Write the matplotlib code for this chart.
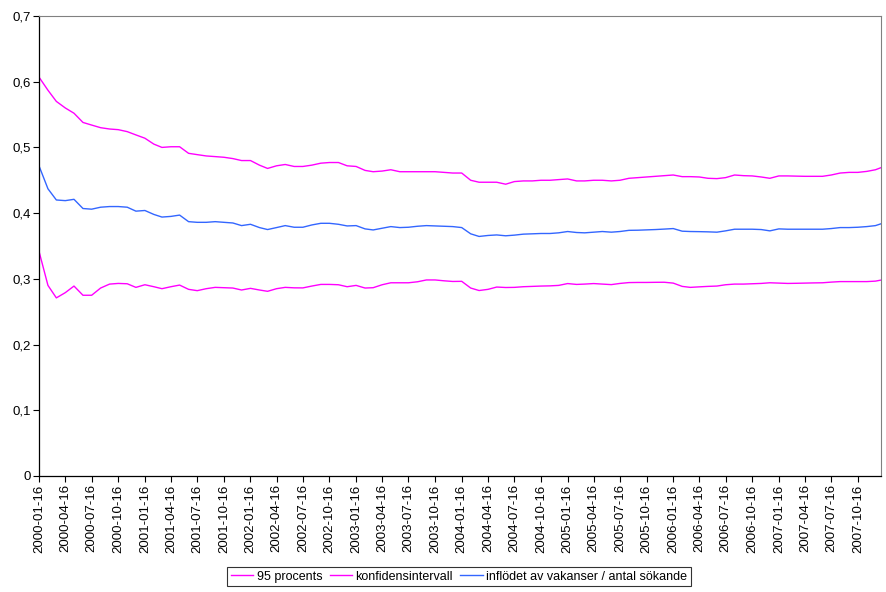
import pandas as pd
import matplotlib
matplotlib.use('Agg')
import matplotlib.pyplot as plt
import matplotlib.dates as mdates

plt.rcParams['font.family'] = ['Liberation Sans', 'DejaVu Sans']

# --- data (one value per month + end of axis) ---
start = pd.Timestamp('2000-01-16')
dates = [start + pd.DateOffset(months=i) for i in range(96)] + [pd.Timestamp('2008-01-03')]

upper = [0.607, 0.587, 0.570, 0.560, 0.552, 0.538, 0.534, 0.530, 0.528, 0.527,
         0.524, 0.519, 0.514, 0.505, 0.500, 0.501, 0.501, 0.491, 0.489, 0.487,
         0.486, 0.485, 0.483, 0.480, 0.480, 0.473, 0.468, 0.472, 0.474, 0.471,
         0.471, 0.473, 0.476, 0.477, 0.477, 0.472, 0.471, 0.465, 0.463, 0.464,
         0.466, 0.463, 0.463, 0.463, 0.463, 0.463, 0.462, 0.461, 0.461, 0.450,
         0.447, 0.447, 0.447, 0.444, 0.448, 0.449, 0.449, 0.450, 0.450, 0.451,
         0.452, 0.449, 0.449, 0.450, 0.450, 0.449, 0.450, 0.453, 0.454, 0.455,
         0.456, 0.457, 0.458, 0.4555, 0.4555, 0.455, 0.453, 0.4525, 0.454, 0.458,
         0.457, 0.4566, 0.455, 0.453, 0.4566, 0.4566, 0.4563, 0.456, 0.456, 0.456,
         0.458, 0.461, 0.462, 0.462, 0.4635, 0.466, 0.469]

middle = [0.472, 0.437, 0.420, 0.419, 0.421, 0.407, 0.406, 0.409, 0.410, 0.410,
          0.409, 0.403, 0.404, 0.398, 0.394, 0.395, 0.397, 0.387, 0.386, 0.386,
          0.387, 0.386, 0.385, 0.381, 0.383, 0.378, 0.375, 0.378, 0.381, 0.3785,
          0.3785, 0.382, 0.3845, 0.3845, 0.383, 0.3805, 0.381, 0.376, 0.3744, 0.377,
          0.3795, 0.378, 0.3785, 0.380, 0.381, 0.3805, 0.380, 0.3795, 0.378, 0.3685,
          0.3645, 0.366, 0.3668, 0.3655, 0.3665, 0.368, 0.3685, 0.369, 0.369, 0.370,
          0.372, 0.3705, 0.370, 0.371, 0.372, 0.371, 0.372, 0.3738, 0.374, 0.3745,
          0.375, 0.3757, 0.3765, 0.3725, 0.372, 0.3718, 0.3715, 0.371, 0.373, 0.3755,
          0.3755, 0.3755, 0.375, 0.373, 0.376, 0.3755, 0.3755, 0.3755, 0.3755, 0.3755,
          0.3765, 0.378, 0.378, 0.3785, 0.3795, 0.381, 0.3836]

lower = [0.342, 0.290, 0.271, 0.279, 0.289, 0.275, 0.275, 0.286, 0.292, 0.293,
         0.2925, 0.287, 0.291, 0.288, 0.285, 0.288, 0.2905, 0.284, 0.282, 0.285,
         0.287, 0.2865, 0.286, 0.283, 0.2855, 0.283, 0.281, 0.285, 0.287, 0.2863,
         0.2862, 0.289, 0.2915, 0.2915, 0.291, 0.288, 0.290, 0.286, 0.2865, 0.291,
         0.294, 0.294, 0.294, 0.2955, 0.2983, 0.2983, 0.297, 0.296, 0.2962, 0.286,
         0.2822, 0.284, 0.2875, 0.2868, 0.287, 0.288, 0.2885, 0.289, 0.2893, 0.290,
         0.2928, 0.2915, 0.292, 0.2928, 0.292, 0.2912, 0.293, 0.2943, 0.2945, 0.2945,
         0.2947, 0.2948, 0.2935, 0.2885, 0.287, 0.2878, 0.2885, 0.289, 0.291, 0.292,
         0.292, 0.2925, 0.293, 0.294, 0.2935, 0.293, 0.2932, 0.2935, 0.2938, 0.294,
         0.295, 0.2958, 0.2958, 0.2958, 0.2958, 0.2965, 0.298]

labels = ['95 procents', 'konfidensintervall', 'inflödet av vakanser / antal sökande']
y_ticks = [0, 0.1, 0.2, 0.3, 0.4, 0.5, 0.6, 0.7]
y_ticklabels = ['0', '0,1', '0,2', '0,3', '0,4', '0,5', '0,6', '0,7']
x_ticks = [start + pd.DateOffset(months=3 * i) for i in range(32)]

MAGENTA = '#FF00FF'
BLUE = '#3366FF'

fig = plt.figure(figsize=(8.86, 5.92), dpi=100)
ax = fig.add_axes([0.044, 0.196, 0.950, 0.777])

l1, = ax.plot(dates, upper, color=MAGENTA, lw=1.0)
l2, = ax.plot(dates, lower, color=MAGENTA, lw=1.0)
l3, = ax.plot(dates, middle, color=BLUE, lw=1.0)

ax.set_ylim(0, 0.7)
ax.set_yticks(y_ticks)
ax.set_yticklabels(y_ticklabels)
ax.set_xlim(start, pd.Timestamp('2008-01-03'))
ax.set_xticks(x_ticks)
ax.xaxis.set_major_formatter(mdates.DateFormatter('%Y-%m-%d'))
ax.tick_params(axis='x', rotation=90, labelsize=9.5, length=4, width=0.8, pad=2)
ax.tick_params(axis='y', labelsize=9.5, length=4, width=0.8, pad=2)

for side in ['top', 'right']:
    ax.spines[side].set_color('#808080')
    ax.spines[side].set_linewidth(0.8)
for side in ['left', 'bottom']:
    ax.spines[side].set_color('black')
    ax.spines[side].set_linewidth(0.9)

# gemensam legend under diagrammet
leg = fig.legend([l1, l2, l3], labels, loc='center', bbox_to_anchor=(0.518, 0.026),
                 ncol=3, fontsize=9, frameon=True, fancybox=False, edgecolor='black',
                 handlelength=1.8, handletextpad=0.25, columnspacing=0.6,
                 borderpad=0.3, borderaxespad=0)
leg.get_frame().set_linewidth(0.8)

fig.savefig('out.png', dpi=100)
